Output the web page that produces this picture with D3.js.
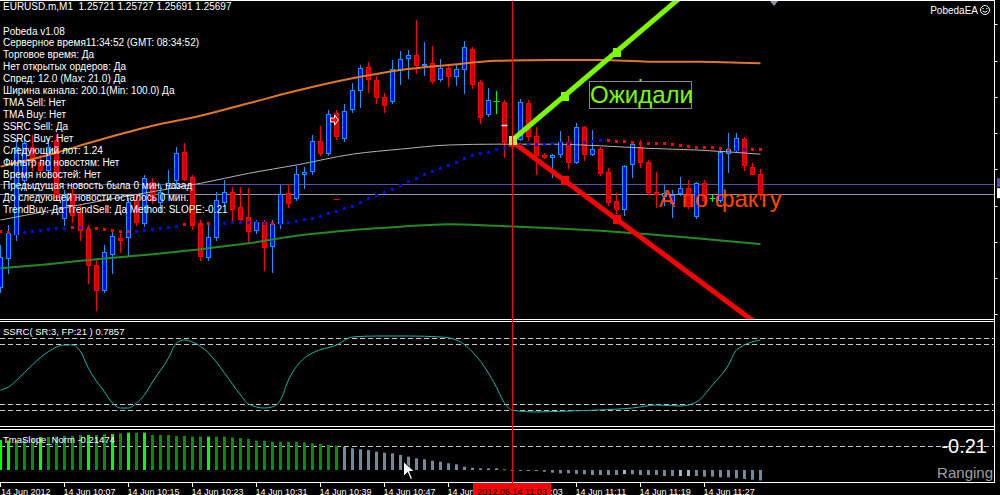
<!DOCTYPE html>
<html>
<head>
<meta charset="utf-8">
<script src="https://cdn.jsdelivr.net/npm/d3@7"></script>
<style>
html, body { margin: 0; padding: 0; background: #000; overflow: hidden; }
svg { display: block; }
text { font-family: "Liberation Sans", Arial, sans-serif; }
</style>
</head>
<body>
<div id="chart"></div>
<script>
// ---- data (EURUSD.m, M1, 14 Jun 2012 09:59 .. 11:34) ----
const symbol = "EURUSD.m,M1";

const openP = [
  1.25586,1.25620,1.25650,1.25714,1.25754,1.25736,1.25726,1.25762,1.25668,1.25696,
  1.25674,1.25655,1.25612,1.25582,1.25626,1.25644,1.25646,1.25690,1.25662,1.25712,
  1.25688,1.25708,1.25714,1.25748,1.25718,1.25662,1.25622,1.25646,1.25688,1.25700,
  1.25682,1.25670,1.25654,1.25664,1.25634,1.25662,1.25698,1.25692,1.25721,1.25725,
  1.25761,1.25746,1.25794,1.25764,1.25799,1.25821,1.25850,1.25834,1.25814,1.25808,
  1.25847,1.25860,1.25864,1.25852,1.25854,1.25835,1.25848,1.25838,1.25847,1.25871,
  1.25832,1.25793,1.25809,1.25808,1.25762,1.25764,1.25806,1.25767,1.25744,1.25742,
  1.25746,1.25760,1.25736,1.25778,1.25745,1.25751,1.25724,1.25689,1.25679,1.25733,
  1.25754,1.25736,1.25700,1.25694,1.25686,1.25698,1.25704,1.25670,1.25710,1.25692,
  1.25690,1.25746,1.25750,1.25763,1.25730,1.25721];
const highP = [
  1.25636,1.25660,1.25762,1.25764,1.25768,1.25744,1.25764,1.25768,1.25702,1.25704,
  1.25684,1.25660,1.25620,1.25636,1.25652,1.25654,1.25692,1.25696,1.25720,1.25716,
  1.25708,1.25726,1.25754,1.25758,1.25720,1.25666,1.25662,1.25700,1.25714,1.25706,
  1.25706,1.25704,1.25666,1.25666,1.25666,1.25708,1.25709,1.25731,1.25730,1.25768,
  1.25779,1.25798,1.25798,1.25805,1.25830,1.25852,1.25856,1.25839,1.25818,1.25858,
  1.25869,1.25870,1.25906,1.25880,1.25875,1.25859,1.25852,1.25852,1.25881,1.25874,
  1.25834,1.25824,1.25821,1.25810,1.25768,1.25811,1.25810,1.25778,1.25746,1.25745,
  1.25773,1.25767,1.25782,1.25779,1.25774,1.25754,1.25728,1.25698,1.25732,1.25760,
  1.25762,1.25738,1.25724,1.25708,1.25702,1.25718,1.25714,1.25712,1.25714,1.25696,
  1.25750,1.25770,1.25770,1.25766,1.25734,1.25727];
const lowP = [
  1.25580,1.25602,1.25642,1.25702,1.25726,1.25720,1.25716,1.25690,1.25660,1.25664,
  1.25642,1.25590,1.25558,1.25580,1.25602,1.25628,1.25624,1.25660,1.25659,1.25686,
  1.25676,1.25698,1.25706,1.25714,1.25655,1.25618,1.25618,1.25642,1.25684,1.25666,
  1.25664,1.25640,1.25650,1.25606,1.25604,1.25656,1.25682,1.25690,1.25704,1.25721,
  1.25744,1.25744,1.25763,1.25761,1.25796,1.25802,1.25820,1.25806,1.25796,1.25806,
  1.25829,1.25836,1.25842,1.25840,1.25830,1.25833,1.25827,1.25828,1.25818,1.25824,
  1.25782,1.25791,1.25794,1.25742,1.25752,1.25762,1.25762,1.25721,1.25740,1.25718,
  1.25742,1.25728,1.25734,1.25738,1.25744,1.25720,1.25684,1.25674,1.25672,1.25718,
  1.25730,1.25697,1.25682,1.25684,1.25670,1.25696,1.25680,1.25668,1.25688,1.25689,
  1.25688,1.25724,1.25749,1.25726,1.25721,1.25691];
const closeP = [
  1.25622,1.25650,1.25754,1.25758,1.25736,1.25726,1.25754,1.25694,1.25696,1.25672,
  1.25654,1.25612,1.25582,1.25628,1.25647,1.25641,1.25688,1.25664,1.25716,1.25690,
  1.25700,1.25710,1.25746,1.25716,1.25660,1.25622,1.25646,1.25690,1.25700,1.25680,
  1.25668,1.25653,1.25664,1.25634,1.25661,1.25697,1.25686,1.25721,1.25724,1.25761,
  1.25746,1.25793,1.25766,1.25797,1.25822,1.25848,1.25835,1.25814,1.25805,1.25847,
  1.25859,1.25864,1.25852,1.25853,1.25833,1.25848,1.25838,1.25847,1.25874,1.25829,
  1.25790,1.25810,1.25809,1.25760,1.25757,1.25808,1.25766,1.25744,1.25742,1.25744,
  1.25760,1.25736,1.25778,1.25745,1.25751,1.25722,1.25688,1.25680,1.25731,1.25757,
  1.25736,1.25700,1.25697,1.25698,1.25696,1.25704,1.25682,1.25710,1.25690,1.25692,
  1.25748,1.25751,1.25764,1.25732,1.25722,1.25697];

// TMA centre (dotted), one value per bar, and its colour (r = down, b = up)
const tmaMid = [
  1.25653,1.25652,1.25650,1.25652,1.25653,1.25654,1.25655,1.25656,1.25656,1.25658,
  1.25658,1.25656,1.25656,1.25655,1.25654,1.25653,1.25653,1.25653,1.25654,1.25655,
  1.25656,1.25658,1.25659,1.25661,1.25661,1.25661,1.25662,1.25661,1.25662,1.25664,
  1.25664,1.25664,1.25664,1.25662,1.25662,1.25662,1.25664,1.25665,1.25667,1.25668,
  1.25671,1.25674,1.25677,1.25680,1.25683,1.25688,1.25692,1.25696,1.25700,1.25703,
  1.25708,1.25713,1.25716,1.25721,1.25725,1.25728,1.25732,1.25736,1.25740,1.25744,
  1.25746,1.25748,1.25751,1.25752,1.25754,1.25756,1.25757,1.25757,1.25757,1.25758,
  1.25758,1.25758,1.25760,1.25760,1.25761,1.25762,1.25762,1.25761,1.25761,1.25760,
  1.25758,1.25758,1.25758,1.25758,1.25757,1.25756,1.25755,1.25754,1.25754,1.25754,
  1.25752,1.25751,1.25751,1.25751,1.25751,1.25751];
const tmaDir = "rrbbbbbbbrbrrrrrrbbbbbbrrrrbbbbbbbr" +
  "bbbbbbbbbb" + "bbbbbbbbbb" + "bbbbbbbbbb" + "bbbbbbbbbb" + "b" +
  "rrrrrrrrrrrrrrrr" + "bbrr";

// band / moving-average lines, read at these bars
const lineBars  = [0, 6, 12, 19, 25, 31, 37, 44, 50, 56, 62, 69, 75, 81, 87, 95];
const upperBand = [1.25730,1.25744,1.25761,1.25779,1.25791,1.25806,1.25821,1.25836,1.25846,1.25852,1.25857,1.25858,1.25858,1.25856,1.25856,1.25854];
const slowMA    = [1.25666,1.25677,1.25688,1.25700,1.25710,1.25722,1.25732,1.25745,1.25751,1.25756,1.25757,1.25757,1.25755,1.25752,1.25750,1.25745];
const lowerBand = [1.25608,1.25613,1.25619,1.25625,1.25631,1.25638,1.25647,1.25654,1.25658,1.25661,1.25659,1.25656,1.25653,1.25649,1.25644,1.25637];

const bidPrice = 1.25697;
const askPrice = 1.25709;
const priceTicks = [1.25901, 1.25857, 1.25814, 1.25770, 1.25727, 1.25683, 1.25640, 1.25596, 1.25553];

// trend-line objects
const trendLines = [
  { name: "actual",   b0: 64, p0: 1.25760, b1: 77, p1: 1.25667, color: "#ff0000", start: "#ff0000" },
  { name: "expected", b0: 64, p0: 1.25762, b1: 77, p1: 1.25868, color: "#7cfc00", start: "#a6ff4a" }
];

// SSRC sub-window
const ssrcBar = [0,1,2,4,6,8,9,10,11,13,14,15,16,17,18,19,21,22,23,24,26,28,30,31,33,34,35,36,38,39,42,44,47,51,55,57,59,61,62,63,64,67,71,75,79,82,85,87,89,91,92,95];
const ssrcVal = [0.369,0.394,0.45,0.58,0.69,0.744,0.744,0.69,0.55,0.353,0.26,0.219,0.219,0.261,0.328,0.436,0.636,0.761,0.786,0.769,0.678,0.511,0.328,0.253,0.219,0.228,0.286,0.453,0.636,0.678,0.744,0.811,0.819,0.819,0.811,0.786,0.686,0.51,0.39,0.26,0.2,0.186,0.194,0.203,0.219,0.244,0.236,0.269,0.411,0.578,0.703,0.7857];
const ssrcLevels = [0.8, 0.75, 0.25, 0.2];

// TmaSlope_Norm sub-window
const slopeVal = [
  0.617,0.603,0.617,0.638,0.658,0.679,0.679,0.686,0.700,0.700,
  0.720,0.720,0.720,0.741,0.741,0.755,0.768,0.768,0.768,0.720,
  0.720,0.720,0.700,0.700,0.686,0.686,0.686,0.686,0.686,0.672,
  0.658,0.638,0.603,0.603,0.583,0.583,0.583,0.583,0.569,0.549,
  0.535,0.514,0.500,0.479,0.446,0.426,0.412,0.377,0.356,0.344,
  0.309,0.274,0.241,0.220,0.191,0.171,0.138,0.117,0.068,0.047,
  0.035,0.035,0.035,0.015,0.005,-0.005,-0.010,-0.020,-0.034,-0.055,
  -0.069,-0.069,-0.082,-0.089,-0.103,-0.103,-0.103,-0.103,-0.082,-0.089,
  -0.103,-0.103,-0.103,-0.123,-0.123,-0.123,-0.123,-0.123,-0.137,-0.137,
  -0.151,-0.151,-0.171,-0.185,-0.199,-0.21474];
const slopeKind = "LLGGGLGGGGGLGGLGLGL" + "GGGGGGG" + "L" + "GGGGGGGGGGGGGGGG" +
  "SSSSSSSSSSSSSSSSSSSSSSSSSSSSSSSSSSS" + "W" + "SSSSSS" + "WW" + "SSSSSSSSS";
const slopeLevel = 0.5;

const timeLabels = ["14 Jun 2012", "14 Jun 10:07", "14 Jun 10:15", "14 Jun 10:23", "14 Jun 10:31",
  "14 Jun 10:39", "14 Jun 10:47", "14 Jun 10:55", "14 Jun 11:03", "14 Jun 11:11", "14 Jun 11:19", "14 Jun 11:27"];
const cursorBar = 64;
const cursorLabel = "2012.06.14 11:03";

const infoLines = [
  "Pobeda v1.08",
  "Серверное время11:34:52 (GMT: 08:34:52)",
  "Торговое время: Да",
  "Нет открытых ордеров: Да",
  "Спред: 12.0 (Max: 21.0) Да",
  "Ширина канала: 200.1(Min: 100.0) Да",
  "TMA Sell: Нет",
  "TMA Buy: Нет",
  "SSRC Sell: Да",
  "SSRC Buy: Нет",
  "Следующий лот: 1.24",
  "Фильтр по новостям: Нет",
  "Время новостей: Нет",
  "Предыдущая новость была 0 мин. назад",
  "До следующей новости осталось 0 мин.",
  "TrendBuy: Да TrendSell: Да Method: SLOPE:-0.21"
];

// ---- layout ----
const W = 1000, H = 495;
const rightX = 994.5;
const crisp = v => Math.round(v) + 0.5;
const fmt = d3.format(".5f");

const xBar = d3.scaleLinear().domain([0, 95]).range([0.5, 760.5]);
const yMain = d3.scaleLinear().domain([1.255472, 1.25930]).range([319, 0]);
const ySsrc = d3.scaleLinear().domain([0.065, 0.944]).range([426.5, 321]);
const ySlope = d3.scaleLinear().domain([0, 0.5]).range([470, 445.7]);

const svg = d3.select("#chart").append("svg")
    .attr("width", W)
    .attr("height", H);
svg.append("rect").attr("width", W).attr("height", H).attr("fill", "#000");

const boxX0 = xBar(cursorBar) - 39.5, boxX1 = xBar(cursorBar) + 38.5;

const defs = svg.append("defs");
defs.append("clipPath").attr("id", "clip-main")
    .append("rect").attr("x", 0).attr("y", 1).attr("width", 994).attr("height", 318);
defs.append("clipPath").attr("id", "clip-ssrc")
    .append("rect").attr("x", 0).attr("y", 322).attr("width", 994).attr("height", 104);
const clipAxis = defs.append("clipPath").attr("id", "clip-axis");
clipAxis.append("rect").attr("x", 0).attr("y", 483).attr("width", boxX0).attr("height", 12);
clipAxis.append("rect").attr("x", boxX1).attr("y", 483).attr("width", W - boxX1).attr("height", 12);

// ---- main window ----
const gMain = svg.append("g").attr("clip-path", "url(#clip-main)");

// ask / bid lines
gMain.selectAll("line.price")
    .data([{ p: askPrice, c: "#5a4fa8" }, { p: bidPrice, c: "#8a94a6" }])
    .join("line")
    .attr("class", "price")
    .attr("x1", 0).attr("x2", rightX)
    .attr("y1", d => crisp(yMain(d.p))).attr("y2", d => crisp(yMain(d.p)))
    .attr("stroke", d => d.c);

// candles
const bars = openP.map((o, i) => ({ i: i, o: o, h: highP[i], l: lowP[i], c: closeP[i] }));
const candleColor = d => d.c > d.o ? "#1e90ff" : (d.c < d.o ? "#ff0000" : "#00ff00");
const candleFill = d => d.c > d.o ? "#0000ff" : "#cc0000";

const candles = gMain.append("g").selectAll("g")
    .data(bars)
    .join("g");
candles.append("line")
    .attr("x1", d => xBar(d.i)).attr("x2", d => xBar(d.i))
    .attr("y1", d => Math.round(yMain(d.h))).attr("y2", d => Math.round(yMain(d.l)) + 1)
    .attr("stroke", candleColor);
candles.filter(d => d.c !== d.o).append("rect")
    .attr("x", d => xBar(d.i) - 2)
    .attr("width", 4)
    .attr("y", d => crisp(yMain(Math.max(d.o, d.c))))
    .attr("height", d => Math.max(1, Math.round(Math.abs(yMain(d.o) - yMain(d.c)))))
    .attr("fill", candleFill)
    .attr("stroke", candleColor);
candles.filter(d => d.c === d.o).append("line")
    .attr("x1", d => xBar(d.i) - 3).attr("x2", d => xBar(d.i) + 3)
    .attr("y1", d => crisp(yMain(d.o))).attr("y2", d => crisp(yMain(d.o)))
    .attr("stroke", candleColor);

// band lines
const bandLine = arr => d3.line()
    .x((d, k) => xBar(d))
    .y((d, k) => yMain(arr[k]))
    .curve(d3.curveMonotoneX)(lineBars);
gMain.append("path").attr("d", bandLine(slowMA))
    .attr("fill", "none").attr("stroke", "#b4b4b4").attr("stroke-width", 1);
gMain.append("path").attr("d", bandLine(upperBand))
    .attr("fill", "none").attr("stroke", "#e2772a").attr("stroke-width", 2);
gMain.append("path").attr("d", bandLine(lowerBand))
    .attr("fill", "none").attr("stroke", "#228b22").attr("stroke-width", 2);

// TMA dots
gMain.append("g").selectAll("rect")
    .data(tmaMid)
    .join("rect")
    .attr("x", (d, i) => xBar(i) - 1.5)
    .attr("y", d => Math.round(yMain(d)) - 1)
    .attr("width", 3).attr("height", 3)
    .attr("fill", (d, i) => tmaDir[i] === "r" ? "#ff0000" : "#0000ff");

// small chart objects
gMain.append("line")
    .attr("x1", xBar(42) - 3).attr("x2", xBar(42) + 3)
    .attr("y1", crisp(yMain(1.25691))).attr("y2", crisp(yMain(1.25691)))
    .attr("stroke", "#ff0000");
gMain.append("line")
    .attr("x1", xBar(63) - 3).attr("x2", xBar(63) + 3)
    .attr("y1", crisp(yMain(1.25780))).attr("y2", crisp(yMain(1.25780)))
    .attr("stroke", "#ffffff").attr("stroke-width", 1.5);
gMain.append("path")
    .attr("transform", `translate(${xBar(42) - 6},${yMain(1.25786)})`)
    .attr("d", "M0,-2 L4,-2 L4,-5 L8,0 L4,5 L4,2 L0,2 Z")
    .attr("fill", "#ff0000").attr("stroke", "#ffffff").attr("stroke-width", 1);
gMain.append("rect")
    .attr("x", xBar(80) - 1).attr("y", yMain(1.25834) - 1)
    .attr("width", 2).attr("height", 2).attr("fill", "#7cfc00");

// trend lines (rays)
trendLines.forEach(t => {
    const x0 = xBar(t.b0), y0 = yMain(t.p0), x1 = xBar(t.b1), y1 = yMain(t.p1);
    gMain.append("line")
        .attr("x1", x0).attr("y1", y0)
        .attr("x2", x0 + (x1 - x0) * 6).attr("y2", y0 + (y1 - y0) * 6)
        .attr("stroke", t.color).attr("stroke-width", 5);
});
trendLines.forEach(t => {
    const x0 = xBar(t.b0), y0 = yMain(t.p0), x1 = xBar(t.b1), y1 = yMain(t.p1);
    const pts = [[x0, y0, t.start], [(x0 + x1) / 2, (y0 + y1) / 2, t.color], [x1, y1, t.color]];
    gMain.append("g").selectAll("rect")
        .data(pts)
        .join("rect")
        .attr("x", d => Math.round(d[0]) - 4).attr("y", d => Math.round(d[1]) - 4)
        .attr("width", 8).attr("height", 9)
        .attr("fill", d => d[2]);
});

// labels on chart
gMain.append("rect")
    .attr("x", 589.5).attr("y", 81.5).attr("width", 102).attr("height", 27)
    .attr("fill", "none").attr("stroke", "#7f8a94");
gMain.append("text")
    .attr("x", 590).attr("y", 103)
    .attr("font-size", 24).attr("fill", "#7cfc00")
    .text("Ожидали");
gMain.append("text")
    .attr("x", 659).attr("y", 207)
    .attr("font-size", 24).attr("fill", "#ff4500")
    .text("А по факту");

// chart-shift marker
svg.append("path").attr("d", "M770,1 L778,1 L774,6 Z").attr("fill", "#8895a5");

// info panel
svg.append("text")
    .attr("x", 3).attr("y", 10)
    .attr("font-size", 10).attr("fill", "#fff")
    .attr("xml:space", "preserve")
    .text(symbol + "  " + [openP[95], highP[95], lowP[95], closeP[95]].map(fmt).join(" "));
svg.append("g").selectAll("text")
    .data(infoLines)
    .join("text")
    .attr("x", 3)
    .attr("y", (d, i) => 34.5 + i * 11.92)
    .attr("font-size", 10)
    .attr("fill", "#fff")
    .text(d => d);

// PobedaEA + smiley
svg.append("text")
    .attr("x", 978).attr("y", 13.5)
    .attr("text-anchor", "end")
    .attr("font-size", 10).attr("fill", "#fff")
    .text("PobedaEA");
const smile = svg.append("g").attr("transform", "translate(985,10)");
smile.append("circle").attr("r", 4.5).attr("fill", "none").attr("stroke", "#fff");
smile.append("rect").attr("x", -2.5).attr("y", -2).attr("width", 1.2).attr("height", 1.2).attr("fill", "#fff");
smile.append("rect").attr("x", 1.3).attr("y", -2).attr("width", 1.2).attr("height", 1.2).attr("fill", "#fff");
smile.append("path").attr("d", "M-2.3,1 Q0,3.5 2.3,1").attr("fill", "none").attr("stroke", "#fff");

// ---- SSRC window ----
const gSsrc = svg.append("g").attr("clip-path", "url(#clip-ssrc)");
gSsrc.selectAll("line.lvl")
    .data(ssrcLevels)
    .join("line")
    .attr("class", "lvl")
    .attr("x1", 0).attr("x2", rightX)
    .attr("y1", d => crisp(ySsrc(d))).attr("y2", d => crisp(ySsrc(d)))
    .attr("stroke", "#c8c8c8").attr("stroke-dasharray", "5,3");
gSsrc.append("path")
    .datum(ssrcBar)
    .attr("d", d3.line().x(d => xBar(d)).y((d, k) => ySsrc(ssrcVal[k])).curve(d3.curveMonotoneX))
    .attr("fill", "none").attr("stroke", "#20b2aa").attr("stroke-width", 1);
svg.append("text")
    .attr("x", 3).attr("y", 334.5)
    .attr("font-size", 9.5).attr("fill", "#fff")
    .text("SSRC( SR:3, FP:21 ) " + ssrcVal[ssrcVal.length - 1].toFixed(4));

// ---- TmaSlope window ----
svg.append("line")
    .attr("x1", 0).attr("x2", rightX)
    .attr("y1", crisp(ySlope(slopeLevel))).attr("y2", crisp(ySlope(slopeLevel)))
    .attr("stroke", "#c8c8c8").attr("stroke-dasharray", "5,3");
const slopeColor = { L: "#00ff00", G: "#0c8c0c", S: "#778899", W: "#aab2bc" };
svg.append("g").selectAll("rect")
    .data(slopeVal)
    .join("rect")
    .attr("x", (d, i) => xBar(i) - 1.5)
    .attr("width", 3)
    .attr("y", d => Math.min(ySlope(d), ySlope(0)))
    .attr("height", d => Math.max(1, Math.abs(ySlope(d) - ySlope(0))))
    .attr("fill", (d, i) => slopeColor[slopeKind[i]]);
svg.append("text")
    .attr("x", 3).attr("y", 442.7)
    .attr("font-size", 9.5).attr("fill", "#fff")
    .text("TmaSlope_Norm " + slopeVal[slopeVal.length - 1].toFixed(5));
svg.append("text")
    .attr("x", 987).attr("y", 453)
    .attr("text-anchor", "end")
    .attr("font-size", 20).attr("fill", "#fff")
    .text(slopeVal[slopeVal.length - 1].toFixed(2));
svg.append("text")
    .attr("x", 993).attr("y", 478)
    .attr("text-anchor", "end")
    .attr("font-size", 15).attr("fill", "#a0a0a0")
    .text("Ranging");

// ---- frames ----
[0.5, 319.5, 321.5, 426.5, 429.5, 482.5].forEach(y => {
    svg.append("line").attr("x1", 0).attr("x2", rightX).attr("y1", y).attr("y2", y).attr("stroke", "#fff");
});
svg.append("line").attr("x1", rightX).attr("x2", rightX).attr("y1", 0).attr("y2", 483).attr("stroke", "#fff");
svg.append("g").selectAll("line")
    .data(priceTicks)
    .join("line")
    .attr("x1", rightX).attr("x2", rightX + 3)
    .attr("y1", d => crisp(yMain(d))).attr("y2", d => crisp(yMain(d)))
    .attr("stroke", "#fff");
svg.append("rect").attr("x", 997).attr("y", yMain(askPrice) - 6).attr("width", 3).attr("height", 9).attr("fill", "#5a4fa8");
svg.append("rect").attr("x", 997).attr("y", yMain(bidPrice) - 6).attr("width", 3).attr("height", 10).attr("fill", "#fff");

// current-bar vertical line
svg.append("line")
    .attr("x1", xBar(cursorBar)).attr("x2", xBar(cursorBar))
    .attr("y1", 1).attr("y2", 483)
    .attr("stroke", "#ff0000");

// ---- time axis ----
const axis = svg.append("g");
axis.selectAll("line")
    .data(timeLabels)
    .join("line")
    .attr("x1", (d, k) => xBar(k * 8)).attr("x2", (d, k) => xBar(k * 8))
    .attr("y1", 483).attr("y2", 487)
    .attr("stroke", "#fff");
axis.append("g")
    .attr("clip-path", "url(#clip-axis)")
    .selectAll("text")
    .data(timeLabels)
    .join("text")
    .attr("x", (d, k) => Math.max(1, xBar(k * 8) - 1))
    .attr("y", 495)
    .attr("font-size", 9)
    .attr("fill", "#fff")
    .text(d => d);
axis.append("rect")
    .attr("x", boxX0).attr("y", 483)
    .attr("width", boxX1 - boxX0).attr("height", 12)
    .attr("fill", "#ff0000");
axis.append("text")
    .attr("x", xBar(cursorBar) - 0.5).attr("y", 495)
    .attr("text-anchor", "middle")
    .attr("font-size", 9).attr("fill", "#000")
    .text(cursorLabel);

// mouse pointer left in the screenshot
svg.append("path")
    .attr("transform", "translate(403.5,461.5)")
    .attr("d", "M0,0 L0,15 L4,11 L7,18 L9,17 L6,10 L11,10 Z")
    .attr("fill", "#fff").attr("stroke", "#000").attr("stroke-width", 1);
</script>
</body>
</html>
